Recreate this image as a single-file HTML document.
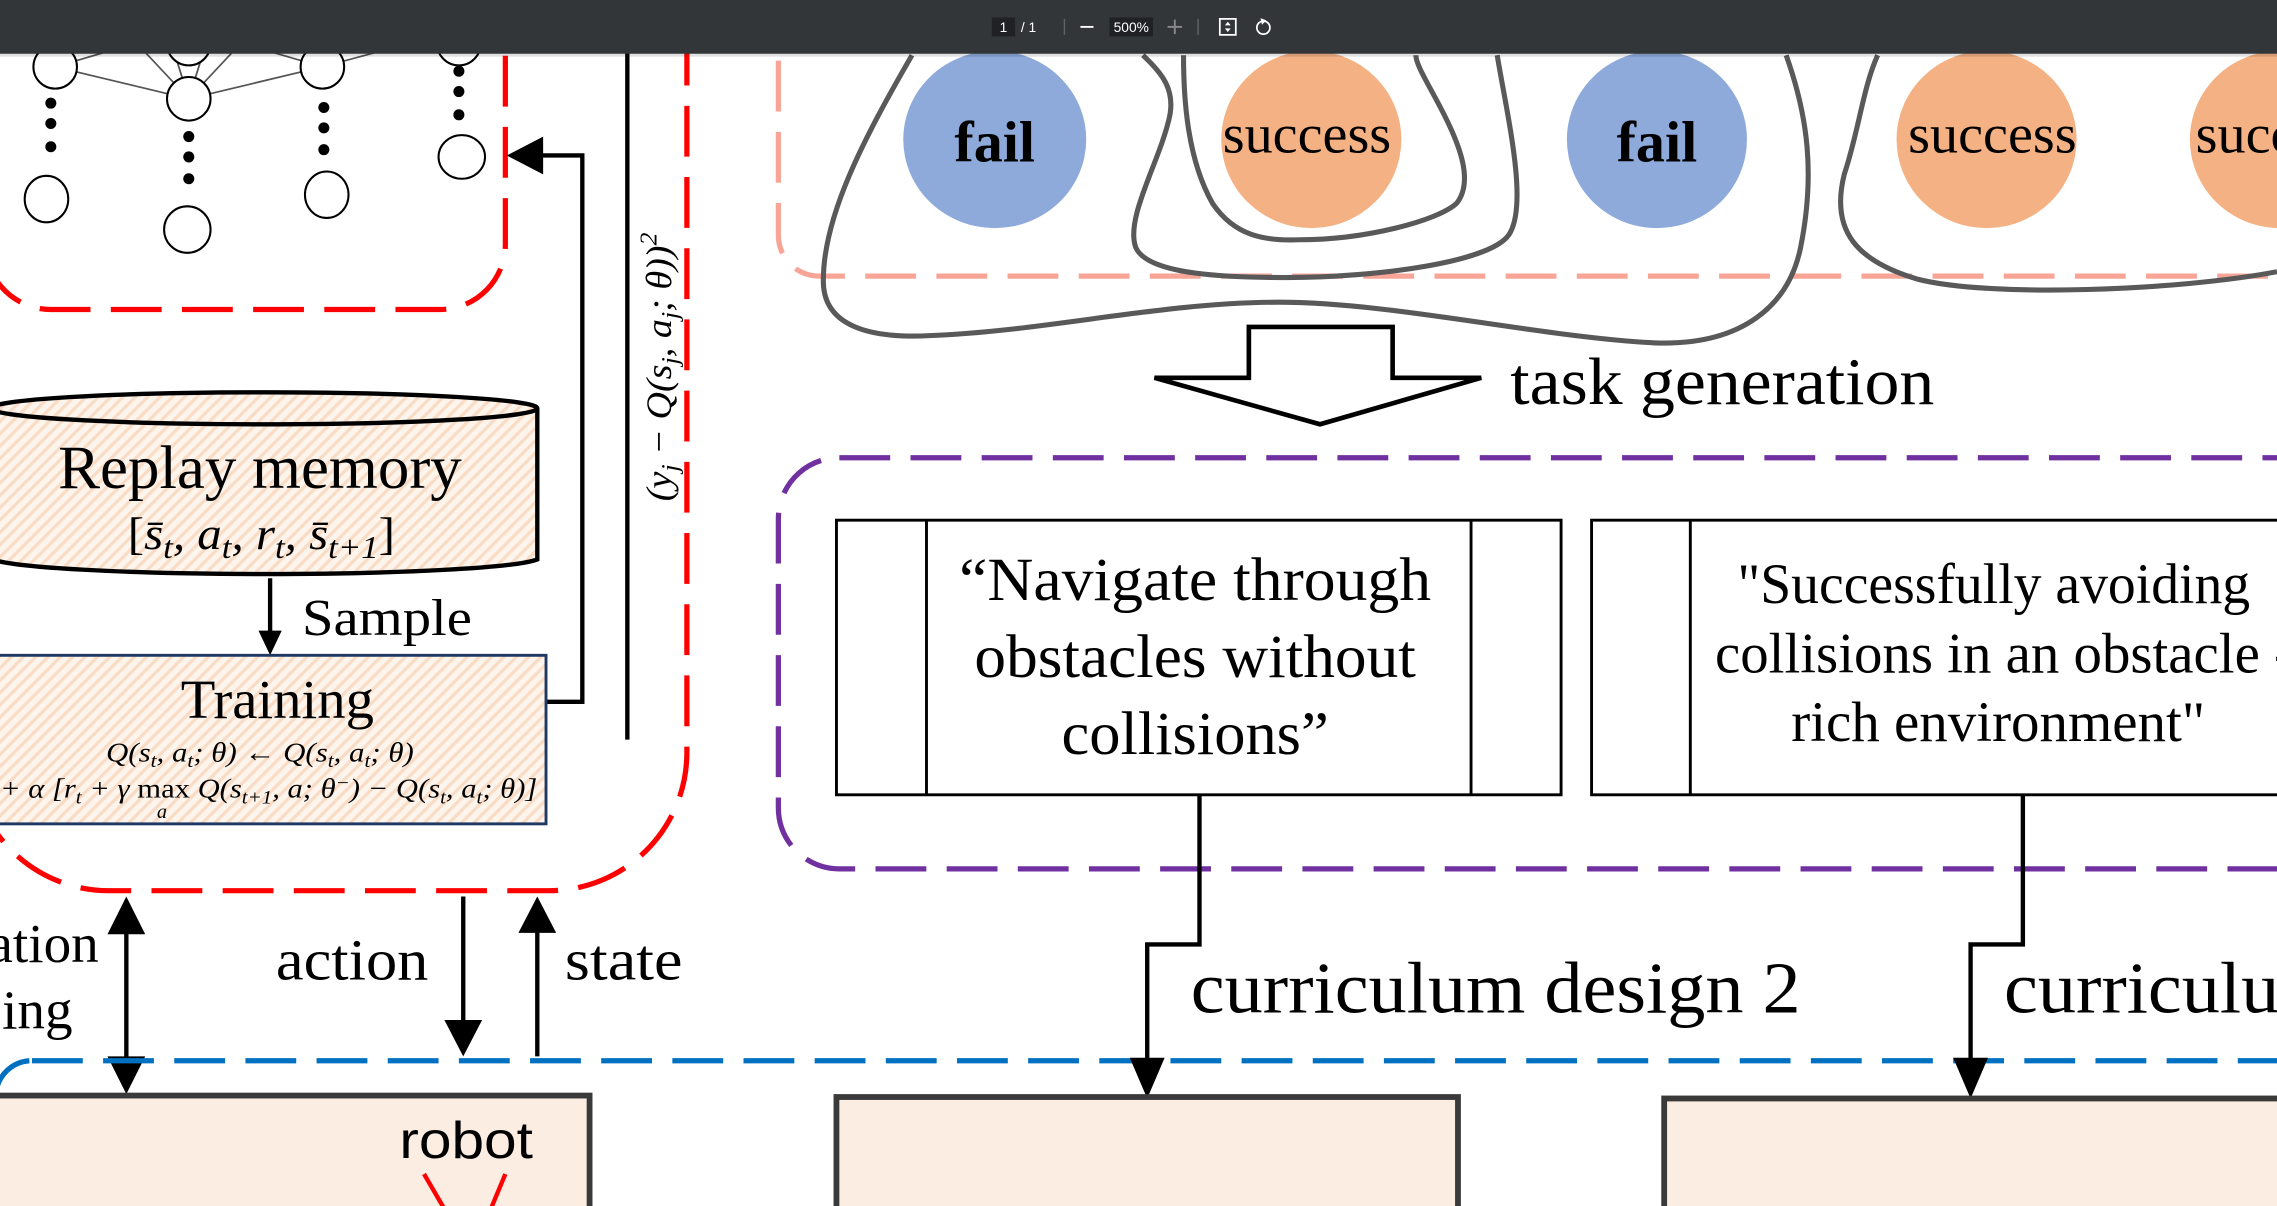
<!DOCTYPE html>
<html><head><meta charset="utf-8"><style>
html,body{margin:0;padding:0;background:#fff;overflow:hidden;width:2277px;height:1206px}
svg{display:block}
.t{font-family:"Liberation Serif",serif;fill:#000}
.m{font-family:"Liberation Serif",serif;font-style:italic;fill:#000}
.s{font-family:"Liberation Sans",sans-serif}
</style></head><body>
<svg width="2277" height="1206" viewBox="0 0 1568 830" preserveAspectRatio="none" xmlns="http://www.w3.org/2000/svg">
<defs>
<pattern id="h" width="6" height="6" patternUnits="userSpaceOnUse" patternTransform="rotate(45)">
<rect width="6" height="6" fill="#fdf4ec"/>
<rect width="2.2" height="6" fill="#f8dcc6"/>
</pattern>
</defs>
<rect width="1568" height="830" fill="#fff"/>

<!-- red dashed boxes -->
<rect x="-10" y="-60" width="358" height="273" rx="45" fill="none" stroke="#ff0000" stroke-width="3.6" stroke-dasharray="35 14"/>
<rect x="-20" y="-60" width="493" height="673" rx="95" fill="none" stroke="#ff0000" stroke-width="3.6" stroke-dasharray="35 14"/>

<!-- neural net -->
<g stroke="#555" stroke-width="1.2">
<line x1="38" y1="46" x2="130" y2="68"/><line x1="130" y1="68" x2="222" y2="46"/>
<line x1="130" y1="68" x2="85" y2="20"/><line x1="130" y1="68" x2="115" y2="20"/><line x1="130" y1="68" x2="145" y2="20"/><line x1="130" y1="68" x2="175" y2="20"/>
<line x1="38" y1="46" x2="110" y2="25"/><line x1="222" y1="46" x2="300" y2="25"/><line x1="222" y1="46" x2="150" y2="25"/>
</g>
<g fill="#fff" stroke="#000" stroke-width="1.4">
<ellipse cx="38" cy="46" rx="15" ry="15"/><ellipse cx="130" cy="68" rx="15" ry="15"/><ellipse cx="222" cy="46" rx="15" ry="15"/>
<ellipse cx="130" cy="30" rx="15" ry="15"/><ellipse cx="316" cy="30" rx="15" ry="15"/>
<ellipse cx="32" cy="137" rx="15" ry="16"/><ellipse cx="129" cy="158" rx="16" ry="16"/><ellipse cx="225" cy="134" rx="15" ry="16"/><ellipse cx="318" cy="108" rx="16" ry="15"/>
</g>
<g fill="#000">
<circle cx="35" cy="71" r="3.8"/><circle cx="35" cy="85" r="3.8"/><circle cx="35" cy="101" r="3.8"/>
<circle cx="130" cy="94" r="3.8"/><circle cx="130" cy="108" r="3.8"/><circle cx="130" cy="123" r="3.8"/>
<circle cx="223" cy="74" r="3.8"/><circle cx="223" cy="88" r="3.8"/><circle cx="223" cy="103" r="3.8"/>
<circle cx="316" cy="49" r="3.8"/><circle cx="316" cy="63" r="3.8"/><circle cx="316" cy="79" r="3.8"/>
</g>

<!-- feedback arrow -->
<polyline points="376,483 401,483 401,107 372,107" fill="none" stroke="#000" stroke-width="3"/>
<polygon points="349,107 374,94 374,120" fill="#000"/>
<line x1="432" y1="30" x2="432" y2="509" stroke="#000" stroke-width="3"/>
<text class="m" transform="translate(462,345) rotate(-90)" font-size="25" textLength="185" lengthAdjust="spacingAndGlyphs">(y<tspan dy="5" font-size="17">j</tspan><tspan dy="-5"> − Q(s</tspan><tspan dy="5" font-size="17">j</tspan><tspan dy="-5">, a</tspan><tspan dy="5" font-size="17">j</tspan><tspan dy="-5">; θ))</tspan><tspan dy="-10" font-size="17">2</tspan></text>

<!-- cylinder -->
<path d="M-5,281 L-5,385 A190,12 0 0 0 370,385 L370,281" fill="url(#h)" stroke="#000" stroke-width="3"/>
<ellipse cx="182" cy="281" rx="188" ry="11" fill="url(#h)" stroke="#000" stroke-width="3"/>
<text class="t" x="179" y="336" font-size="42" text-anchor="middle" textLength="278" lengthAdjust="spacingAndGlyphs">Replay memory</text>
<text class="m" x="180" y="378" font-size="31" text-anchor="middle" textLength="184" lengthAdjust="spacingAndGlyphs"><tspan font-style="normal">[</tspan>s̄<tspan dy="6" font-size="22">t</tspan><tspan dy="-6">, a</tspan><tspan dy="6" font-size="22">t</tspan><tspan dy="-6">, r</tspan><tspan dy="6" font-size="22">t</tspan><tspan dy="-6">, s̄</tspan><tspan dy="6" font-size="22">t+1</tspan><tspan dy="-6" font-style="normal">]</tspan></text>

<!-- sample arrow -->
<line x1="186" y1="398" x2="186" y2="436" stroke="#000" stroke-width="3"/>
<polygon points="186,451 178,434 194,434" fill="#000"/>
<text class="t" x="208" y="437" font-size="36" textLength="117" lengthAdjust="spacingAndGlyphs">Sample</text>

<!-- training -->
<rect x="-3" y="451" width="379" height="116" fill="url(#h)" stroke="#1f3864" stroke-width="2"/>
<text class="t" x="191" y="494" font-size="38" text-anchor="middle" textLength="133" lengthAdjust="spacingAndGlyphs">Training</text>
<text class="m" x="179" y="524" font-size="19" text-anchor="middle" textLength="212" lengthAdjust="spacingAndGlyphs">Q(s<tspan dy="4" font-size="13">t</tspan><tspan dy="-4">, a</tspan><tspan dy="4" font-size="13">t</tspan><tspan dy="-4">; θ) ← Q(s</tspan><tspan dy="4" font-size="13">t</tspan><tspan dy="-4">, a</tspan><tspan dy="4" font-size="13">t</tspan><tspan dy="-4">; θ)</tspan></text>
<text class="m" x="0" y="549" font-size="19" textLength="370" lengthAdjust="spacingAndGlyphs">+ α [r<tspan dy="4" font-size="13">t</tspan><tspan dy="-4"> + γ </tspan><tspan font-style="normal">max</tspan><tspan> Q(s</tspan><tspan dy="4" font-size="13">t+1</tspan><tspan dy="-4">, a; θ</tspan><tspan dy="-6" font-size="13">−</tspan><tspan dy="6">) − Q(s</tspan><tspan dy="4" font-size="13">t</tspan><tspan dy="-4">, a</tspan><tspan dy="4" font-size="13">t</tspan><tspan dy="-4">; θ)]</tspan></text>
<text class="m" x="108" y="563" font-size="14">a</text>

<!-- bottom left arrows -->
<line x1="87" y1="638" x2="87" y2="732" stroke="#000" stroke-width="3"/>
<polygon points="87,617 74,643 100,643" fill="#000"/>
<polygon points="87,753 74,727 100,727" fill="#000"/>
<text class="t" x="68" y="662" font-size="38" text-anchor="end">ation</text>
<text class="t" x="50" y="708" font-size="38" text-anchor="end">ing</text>
<text class="t" x="190" y="674" font-size="40" textLength="105" lengthAdjust="spacingAndGlyphs">action</text>
<line x1="319" y1="617" x2="319" y2="705" stroke="#000" stroke-width="3"/>
<polygon points="319,727 306,702 332,702" fill="#000"/>
<line x1="370" y1="640" x2="370" y2="727" stroke="#000" stroke-width="3"/>
<polygon points="370,617 357,642 383,642" fill="#000"/>
<text class="t" x="389" y="674" font-size="40" textLength="81" lengthAdjust="spacingAndGlyphs">state</text>

<!-- blue dashed -->
<rect x="-3" y="730" width="1700" height="300" rx="25" fill="none" stroke="#0070c0" stroke-width="3.6" stroke-dasharray="35 14"/>

<!-- robot box -->
<rect x="-8" y="754" width="414" height="100" fill="#fcede2" stroke="#3a3a3a" stroke-width="4"/>
<text class="s" x="321" y="797" font-size="36" text-anchor="middle" fill="#000" textLength="92" lengthAdjust="spacingAndGlyphs">robot</text>
<line x1="292" y1="808" x2="306" y2="832" stroke="#ff0000" stroke-width="3"/>
<line x1="348" y1="808" x2="338" y2="832" stroke="#ff0000" stroke-width="3"/>

<!-- salmon dashed -->
<rect x="536" y="-60" width="1100" height="250" rx="28" fill="none" stroke="#f8a597" stroke-width="3.6" stroke-dasharray="35 14"/>

<!-- circles -->
<ellipse cx="685" cy="96" rx="63" ry="61" fill="#8eaadb"/>
<ellipse cx="903" cy="96" rx="62" ry="61" fill="#f4b183"/>
<ellipse cx="1141" cy="96" rx="62" ry="61" fill="#8eaadb"/>
<ellipse cx="1368" cy="96" rx="62" ry="61" fill="#f4b183"/>
<ellipse cx="1570" cy="96" rx="62" ry="61" fill="#f4b183"/>
<text class="t" x="685" y="111" font-size="40" font-weight="bold" text-anchor="middle">fail</text>
<text class="t" x="900" y="105" font-size="38" text-anchor="middle" textLength="116" lengthAdjust="spacingAndGlyphs">success</text>
<text class="t" x="1141" y="111" font-size="40" font-weight="bold" text-anchor="middle">fail</text>
<text class="t" x="1372" y="105" font-size="38" text-anchor="middle" textLength="116" lengthAdjust="spacingAndGlyphs">success</text>
<text class="t" x="1512" y="105" font-size="38" textLength="116" lengthAdjust="spacingAndGlyphs">success</text>

<!-- blobs -->
<g fill="none" stroke="#595959" stroke-width="3.5">
<path d="M628,38 C595,95 566,150 567,195 C568,225 600,233 640,231 C720,228 800,208 880,208 C960,208 1060,232 1140,236 C1200,238 1232,210 1240,170 C1250,120 1245,80 1230,38"/>
<path d="M787,38 C800,50 810,62 805,82 C798,112 775,150 782,170 C790,190 850,191 885,191 C950,191 1030,180 1040,160 C1052,138 1038,80 1031,38"/>
<path d="M815,38 C815,70 818,110 835,140 C850,162 870,166 895,165 C940,165 990,152 1003,140 C1015,125 1005,100 995,80 C985,60 975,45 975,38"/>
<path d="M1293,38 C1283,60 1280,90 1270,120 C1260,160 1280,180 1320,192 C1370,205 1500,200 1568,187"/>
</g>

<!-- hollow arrow -->
<polygon points="860,225 959,225 959,260 1020,260 909,292 795,260 860,260" fill="#fff" stroke="#000" stroke-width="3.2" stroke-linejoin="miter"/>
<text class="t" x="1040" y="278" font-size="46" textLength="292" lengthAdjust="spacingAndGlyphs">task generation</text>

<!-- purple dashed -->
<rect x="536" y="315" width="1100" height="283" rx="42" fill="none" stroke="#7030a0" stroke-width="3.6" stroke-dasharray="35 14"/>

<!-- task boxes -->
<g fill="#fff" stroke="#000" stroke-width="2">
<rect x="576" y="358" width="499" height="189"/>
<line x1="638" y1="358" x2="638" y2="547"/><line x1="1013" y1="358" x2="1013" y2="547"/>
<rect x="1096" y="358" width="520" height="189"/>
<line x1="1164" y1="358" x2="1164" y2="547"/>
</g>
<g class="t" font-size="42" text-anchor="middle">
<text x="823" y="413" textLength="325" lengthAdjust="spacingAndGlyphs">“Navigate through</text>
<text x="823" y="466" textLength="304" lengthAdjust="spacingAndGlyphs">obstacles without</text>
<text x="823" y="519" textLength="184" lengthAdjust="spacingAndGlyphs">collisions”</text>
</g>
<g class="t" font-size="39" text-anchor="middle">
<text x="1373" y="415" textLength="353" lengthAdjust="spacingAndGlyphs">"Successfully avoiding</text>
<text x="1380" y="463" textLength="398" lengthAdjust="spacingAndGlyphs">collisions in an obstacle -</text>
<text x="1376" y="510" textLength="285" lengthAdjust="spacingAndGlyphs">rich environment"</text>
</g>

<!-- connectors -->
<g fill="none" stroke="#000" stroke-width="3">
<polyline points="826,547 826,650 790,650 790,735"/>
<polyline points="1393,547 1393,650 1357,650 1357,735"/>
</g>
<polygon points="790,756 778,728 802,728" fill="#000"/>
<polygon points="1357,756 1345,728 1369,728" fill="#000"/>
<text class="t" x="820" y="697" font-size="50" textLength="420" lengthAdjust="spacingAndGlyphs">curriculum design 2</text>
<text class="t" x="1380" y="697" font-size="50" textLength="420" lengthAdjust="spacingAndGlyphs">curriculum design 3</text>

<!-- bottom boxes -->
<rect x="576" y="755" width="428" height="100" fill="#fcede2" stroke="#3a3a3a" stroke-width="4"/>
<rect x="1146" y="756" width="500" height="100" fill="#fcede2" stroke="#3a3a3a" stroke-width="4"/>

<!-- toolbar -->
<rect x="0" y="0" width="1568" height="37" fill="#323639"/>
<rect x="0" y="37" width="1568" height="2" fill="#000" opacity="0.12"/>
<rect x="683" y="12" width="16" height="13" fill="#202124"/>
<rect x="764" y="12" width="30" height="13" fill="#202124"/>
<g class="s" font-size="9.5">
<text x="691" y="22" text-anchor="middle" fill="#fff">1</text>
<text x="703" y="22" fill="#fff">/  1</text>
<text x="779" y="22" text-anchor="middle" fill="#fff">500%</text>
</g>
<line x1="733" y1="13" x2="733" y2="24" stroke="#5f6368" stroke-width="1"/>
<line x1="825" y1="13" x2="825" y2="24" stroke="#5f6368" stroke-width="1"/>
<line x1="744" y1="18.5" x2="753" y2="18.5" stroke="#fff" stroke-width="1.3"/>
<line x1="804" y1="18.5" x2="814" y2="18.5" stroke="#888" stroke-width="1.3"/>
<line x1="809" y1="13.5" x2="809" y2="23.5" stroke="#888" stroke-width="1.3"/>
<rect x="840" y="13" width="11" height="11" fill="none" stroke="#fff" stroke-width="1.2"/>
<path d="M845.5,15 l-2,2.5 h4 z M845.5,22 l-2,-2.5 h4 z" fill="#fff"/>
<circle cx="870" cy="19" r="4.5" fill="none" stroke="#fff" stroke-width="1.2"/>
<path d="M868,12.5 l4,1.5 -3,3 z" fill="#fff"/>
</svg>
</body></html>
